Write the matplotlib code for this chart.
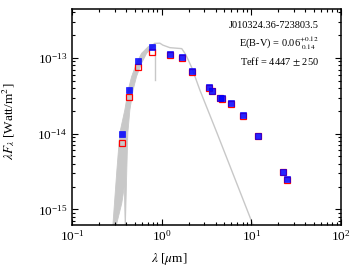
import matplotlib
matplotlib.use("Agg")
import matplotlib.pyplot as plt
from matplotlib.ticker import LogLocator, NullFormatter

plt.rcParams['font.family'] = 'serif'
plt.rcParams['font.serif'] = ['Liberation Serif', 'DejaVu Serif']
plt.rcParams['mathtext.fontset'] = 'stix'

# photometry: wavelength (micron), dereddened (blue) and observed (red) lambda*F_lambda
wave = [0.358, 0.431, 0.54, 0.785, 1.237, 1.67, 2.18, 3.34, 3.64, 4.5, 4.7, 5.88, 8.2, 11.9, 22.9, 24.9]
flux_dered = [9.8e-15, 3.83e-14, 9.05e-14, 1.40e-13, 1.14e-13, 1.04e-13, 6.68e-14, 4.12e-14,
              3.71e-14, 2.98e-14, 2.92e-14, 2.54e-14, 1.76e-14, 9.3e-15, 3.13e-15, 2.48e-15]
flux_obs = [7.55e-15, 3.04e-14, 7.6e-14, 1.21e-13, 1.08e-13, 1.0e-13, 6.45e-14, 4.0e-14,
            3.62e-14, 2.92e-14, 2.86e-14, 2.49e-14, 1.73e-14, 9.2e-15, 3.1e-15, 2.46e-15]

# model spectrum: band of absorption lines in the blue (upper / lower edges)
band_upper_wave = [0.283, 0.318, 0.343, 0.390, 0.425, 0.464, 0.526, 0.598, 0.710, 0.841]
band_upper_flux = [5e-16, 3.36e-15, 1.03e-14, 2.07e-14, 3.79e-14, 5.68e-14, 8.51e-14, 1.15e-13, 1.41e-13, 1.56e-13]
band_lower_wave = [0.841, 0.775, 0.681, 0.598, 0.526, 0.482, 0.444, 0.421, 0.410, 0.394, 0.385, 0.36, 0.30]
band_lower_flux = [1.45e-13, 1.34e-13, 1.15e-13, 8.51e-14, 5.68e-14, 3.79e-14, 2.07e-14, 1.03e-14, 3.36e-15, 5e-16,
                   2.0e-15, 1.2e-15, 5e-16]
# model spectrum: smooth red part
model_wave = [0.841, 0.957, 1.034, 1.237, 1.68, 1.87, 2.18, 2.67, 4.14, 10.4, 11.5]
model_flux = [1.56e-13, 1.57e-13, 1.48e-13, 1.37e-13, 1.33e-13, 1.10e-13, 7.39e-14, 3.79e-14, 1.03e-14, 6.35e-16, 4.7e-16]
# deep line in the model
dip_wave = [0.841, 0.841]
dip_flux = [1.5e-13, 5.1e-14]

gray = '#c8c8c8'

fig = plt.figure(figsize=(3.54, 2.66), dpi=100)
ax = fig.add_axes([0.203, 0.154, 0.760, 0.811])

ax.fill(band_upper_wave + band_lower_wave, band_upper_flux + band_lower_flux,
        color=gray, lw=0.6, zorder=1)
ax.plot(model_wave, model_flux, color=gray, lw=1.0, zorder=1)
ax.plot(dip_wave, dip_flux, color=gray, lw=1.0, zorder=1)

ax.plot(wave, flux_obs, 's', ms=4.5, mfc='none', mec='red', mew=0.9, ls='none', zorder=2)
ax.plot(wave, flux_dered, 's', ms=4.5, color='blue', mec='blue', mew=0.5, alpha=0.85,
        ls='none', zorder=3)

ax.set_xscale('log')
ax.set_yscale('log')
ax.set_xlim(0.1, 100)
ax.set_ylim(6.2e-16, 4.4e-13)

ax.xaxis.set_major_locator(LogLocator(base=10, numticks=10))
ax.xaxis.set_minor_locator(LogLocator(base=10, subs=range(2, 10), numticks=20))
ax.xaxis.set_minor_formatter(NullFormatter())
ax.yaxis.set_minor_locator(LogLocator(base=10, subs=range(2, 10), numticks=20))
ax.yaxis.set_minor_formatter(NullFormatter())
ax.tick_params(which='both', direction='in', top=True, right=True, labelsize=9.5, width=0.8)
ax.tick_params(which='major', length=4.5)
ax.tick_params(axis='x', which='major', pad=3)
ax.tick_params(which='minor', length=2.3)
for s in ax.spines.values():
    s.set_linewidth(1.1)

ax.set_xlabel(r'$\lambda$ [$\mu$m]', fontsize=9.5)
ax.xaxis.set_label_coords(0.362, -0.122)
ax.set_ylabel(r'$\lambda F_\lambda$ [Watt/m$^2$]', fontsize=9.5)
ax.yaxis.set_label_coords(-0.205, 0.48)

ax.text(0.918, 0.927, 'J010324.36-723803.5', transform=ax.transAxes, ha='right', va='center', fontsize=7.5)
ax.text(0.918, 0.844, r'E(B-V) = 0.06$^{+0.12}_{\ 0.14}$', transform=ax.transAxes, ha='right', va='center', fontsize=7.5)
ax.text(0.918, 0.756, r'Teff = 4447 $\pm$ 250', transform=ax.transAxes, ha='right', va='center', fontsize=7.5)

fig.savefig('out.png', dpi=100)
